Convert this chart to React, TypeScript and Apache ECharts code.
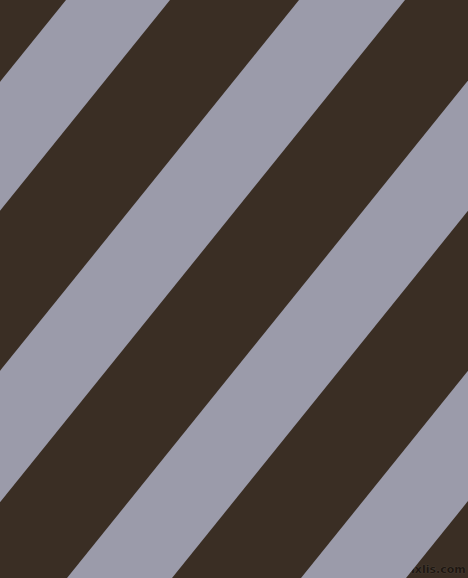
import React, { useEffect, useRef } from "react";
import * as echarts from "echarts";

// Light stripes: where each stripe's left and right edges cross the top edge (x, in px units of the axis)
const stripeTopStart = [66, 299, 533, 767];
const stripeTopEnd = [170, 405, 638, 872];
// Horizontal drift of every stripe edge between the top (y=0) and the bottom (y=578)
const edgeDrift = 466;
const widthExtent = [0, 468];
const heightExtent = [0, 578];
const darkColor = "#3a2e24";
const lightColor = "#9b9baa";
const watermark = "pixlis.com";

export default function App() {
  const ref = useRef<HTMLDivElement>(null);
  useEffect(() => {
    document.body.style.margin = "0";
    const chart = echarts.init(ref.current!, null, { renderer: "svg" });
    const data = stripeTopStart.map((s, i) => [s, stripeTopEnd[i]]);
    const H = heightExtent[1];
    chart.setOption({
      animation: false,
      backgroundColor: darkColor,
      grid: { left: 0, right: 0, top: 0, bottom: 0 },
      xAxis: { type: "value", min: widthExtent[0], max: widthExtent[1], show: false },
      yAxis: { type: "value", min: heightExtent[0], max: heightExtent[1], inverse: true, show: false },
      series: [
        {
          type: "custom",
          clip: true,
          data,
          renderItem: (params: any, api: any) => {
            const x0 = api.value(0);
            const x1 = api.value(1);
            const pts = [
              api.coord([x0, 0]),
              api.coord([x1, 0]),
              api.coord([x1 - edgeDrift, H]),
              api.coord([x0 - edgeDrift, H]),
            ];
            return {
              type: "polygon",
              shape: { points: pts },
              style: { fill: lightColor, stroke: null },
            };
          },
        },
      ],
      graphic: [
        {
          type: "text",
          right: 2,
          bottom: 3,
          style: {
            text: watermark,
            fill: "rgba(20,14,10,0.75)",
            stroke: "rgba(120,110,100,0.35)",
            lineWidth: 0.6,
            font: "bold 11px 'DejaVu Sans', sans-serif",
          },
        },
      ],
    });
    return () => chart.dispose();
  }, []);
  return (
    <div
      ref={ref}
      style={{ position: "fixed", left: 0, top: 0, width: 468, height: 578 }}
    />
  );
}
